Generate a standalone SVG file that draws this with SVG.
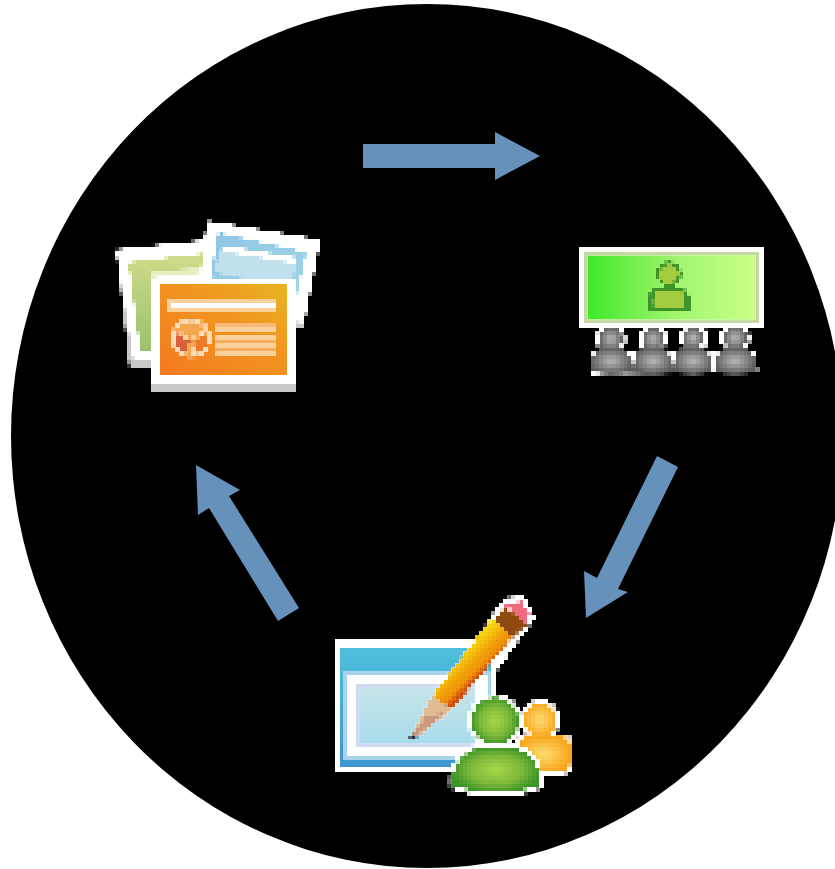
<svg xmlns="http://www.w3.org/2000/svg" width="835" height="869" viewBox="0 0 835 869">
<style>
.arrow{fill:#6591bb}
.w{fill:#fff}
.sh{fill:#c8c8c8}
</style>
<defs>
<filter id="px" filterUnits="userSpaceOnUse" x="0" y="0" width="835" height="869" color-interpolation-filters="sRGB">
<feFlood x="1" y="1" width="1" height="1" flood-color="#000"/>
<feComposite width="4" height="4"/>
<feTile result="a"/>
<feComposite in="SourceGraphic" in2="a" operator="in"/>
<feMorphology operator="dilate" radius="2"/>
</filter>
<linearGradient id="or" x1="0" y1="1" x2="1" y2="0"><stop offset="0" stop-color="#f47a20"/><stop offset=".6" stop-color="#f1951f"/><stop offset="1" stop-color="#e8b322"/></linearGradient>
<linearGradient id="gs" x1="0" y1="0" x2="0" y2="1"><stop offset="0" stop-color="#cfdc88"/><stop offset="1" stop-color="#98c070"/></linearGradient>
<linearGradient id="bs" x1="0" y1="0" x2="1" y2="1"><stop offset="0" stop-color="#8cc4e2"/><stop offset="1" stop-color="#a5d6e8"/></linearGradient>
<linearGradient id="scr" x1="0" y1="0" x2="1" y2="0"><stop offset="0" stop-color="#3fe828"/><stop offset=".5" stop-color="#9cf46c"/><stop offset="1" stop-color="#ccff88"/></linearGradient>
<radialGradient id="gp"><stop offset="0" stop-color="#a8d64a"/><stop offset=".6" stop-color="#7cb83a"/><stop offset="1" stop-color="#3e9428"/></radialGradient>
<radialGradient id="gy"><stop offset="0" stop-color="#b4b4b4"/><stop offset="1" stop-color="#5c5c5c"/></radialGradient>
<radialGradient id="op"><stop offset="0" stop-color="#fddc70"/><stop offset="1" stop-color="#f8a820"/></radialGradient>
<linearGradient id="win" x1="0" y1="0" x2="0" y2="1"><stop offset="0" stop-color="#4fc0dc"/><stop offset="1" stop-color="#3f96d0"/></linearGradient>
<linearGradient id="lt" x1="0" y1="0" x2="0" y2="1"><stop offset="0" stop-color="#c8e4ea"/><stop offset="1" stop-color="#a8dcea"/></linearGradient>
<linearGradient id="pen" gradientUnits="userSpaceOnUse" x1="462" y1="652" x2="482" y2="672"><stop offset="0" stop-color="#f8d810"/><stop offset=".55" stop-color="#f0a008"/><stop offset=".8" stop-color="#f09008"/><stop offset="1" stop-color="#d0500f"/></linearGradient>
<path id="gyb" d="M-21,24C-22,5 -13,0 -7,0L7,0C13,0 22,5 21,24Q0,28 -21,24Z" fill="url(#gy)"/>
</defs>
<ellipse id="background" cx="427" cy="436" rx="416" ry="432" fill="#000"/>
<g id="node-slides" filter="url(#px)">
<polygon class="sh" points="118,262 130,368 158,366 158,250"/>
<polygon class="w" points="116,250 208,240 212,300 160,360 134,360"/>
<polygon points="128,262 203,253 204,273 152,274 152,352 140,352" fill="url(#gs)"/>
<polygon points="150,272 204,268 204,273 152,278" fill="#e4eec0"/>
<polygon class="sh" points="318,242 302,326 290,326 300,240"/>
<polygon class="w" points="207,221 320,240 304,322 280,320 200,280"/>
<polygon points="218,232 307,252 296,300 210,277" fill="url(#bs)"/>
<polygon points="222,248 296,262 290,288 214,272" fill="#c0e0ee"/>
<polygon class="w" points="224,246 296,258 295,263 223,251"/>
<rect class="sh" x="150" y="381" width="147" height="10"/>
<rect class="w" x="152" y="279" width="143" height="104"/>
<rect x="160" y="285" width="126" height="90" fill="url(#or)"/>
<rect x="168" y="301" width="109" height="10" fill="#fbd09a"/>
<rect class="w" x="172" y="304" width="102" height="4"/>
<circle cx="191" cy="338" r="18" fill="#f4a650" stroke="#fbdcb8" stroke-width="3"/>
<polygon points="191,340 175,331 175,348 185,352" fill="#d8603a"/>
<polygon points="193,342 208,333 207,348 197,353" fill="#ec7a28"/>
<path d="M191,340L175,331M191,340L207,330M191,340L194,356" stroke="#fbdcb8" stroke-width="2"/>
<rect x="216" y="323" width="58" height="7" fill="#f7b878"/>
<rect x="216" y="328" width="58" height="3" fill="#fbd09a"/>
<rect x="216" y="334" width="58" height="22" fill="#f4ae60"/>
<rect x="216" y="335" width="58" height="3" fill="#fbd09a"/>
<rect x="216" y="344" width="58" height="3" fill="#fbd09a"/>
<rect x="216" y="352" width="58" height="3" fill="#fbd09a"/>
</g>
<g id="node-presenter" filter="url(#px)">
<rect class="w" x="581" y="249" width="182" height="77"/>
<rect x="584" y="252" width="175" height="71" fill="#c4d8a0"/>
<rect x="588" y="256" width="168" height="63" fill="url(#scr)"/>
<circle cx="669" cy="274" r="13" fill="#3e9428"/>
<circle cx="669" cy="274" r="9" fill="#a4cc40"/>
<path d="M647,310C644,295 652,287 660,287L678,287C686,287 694,295 691,310Q669,316 647,310Z" fill="#3e9428"/>
<path d="M654,307C652,296 656,291 662,291L676,291C682,291 686,296 684,307Q669,311 654,307Z" fill="#a4cc40"/>
<g fill="#fff">
<path d="M590,352L754,352L758,372L592,374Z"/>
<circle cx="611" cy="339" r="15"/><circle cx="653" cy="339" r="14"/><circle cx="694" cy="338" r="14"/><circle cx="735" cy="338" r="15"/>
</g>
<g fill="url(#gy)">
<circle cx="611" cy="339" r="12"/><circle cx="653" cy="339" r="11"/><circle cx="693" cy="338" r="11"/><circle cx="735" cy="338" r="12"/>
</g>
<use href="#gyb" x="611" y="348"/><use href="#gyb" transform="translate(653,348) scale(.95,1)"/><use href="#gyb" transform="translate(693,348) scale(.95,1)"/><use href="#gyb" x="735" y="348"/>
</g>
<g id="node-editor" filter="url(#px)">
<rect class="w" x="336" y="641" width="161" height="130"/>
<rect x="340" y="646" width="153" height="120" fill="url(#win)"/>
<rect x="344" y="672" width="146" height="87" fill="#a8d4e8"/>
<rect class="w" x="348" y="676" width="139" height="79"/>
<rect x="356" y="685" width="121" height="61" fill="#d0daf2"/>
<rect x="360" y="686" width="117" height="56" fill="url(#lt)"/>
<polygon class="w" points="505,598 524,596 535,618 515,645 497,670 472,650 490,618"/>
<polygon points="432,696 452,710 412,741 409,738" fill="#e0bc94"/>
<polygon points="426,716 446,712 412,741 409,738" fill="#c89880"/>
<polygon points="412,733 418,737 411,741 408,740" fill="#223048"/>
<polygon points="432,696 492,618 513,637 452,710" fill="url(#pen)"/>
<polygon points="493,620 504,607 529,623 513,638" fill="#8e4a10"/>
<polygon points="503,604 522,601 530,614 527,624" fill="#f06a80"/>
<circle class="w" cx="540" cy="720" r="20"/>
<rect class="w" x="515" y="735" width="57" height="39" rx="8"/>
<circle cx="540" cy="720" r="17" fill="url(#op)"/>
<rect x="518" y="737" width="52" height="34" rx="7" fill="url(#op)"/>
<circle class="w" cx="495" cy="721" r="27"/>
<path d="M450,788C446,755 470,744 482,744L510,744C522,744 546,755 542,788Q496,806 450,788Z" class="w"/>
<circle cx="495" cy="721" r="24" fill="url(#gp)"/>
<path d="M453,786C449,758 472,747 484,747L508,747C520,747 543,758 539,786Q496,800 453,786Z" fill="url(#gp)"/>
</g>
<g id="connectors">
<polygon class="arrow" points="363,144 495,144 495,132 540,156 495,180 495,168 363,168"/>
<polygon class="arrow" points="657,456 678,467 618,589 628,592 586,618 584,571 597,578"/>
<polygon class="arrow" points="299,608 278,621 209,508 198,515 196,465 240,490 229,496"/>
</g>
</svg>
